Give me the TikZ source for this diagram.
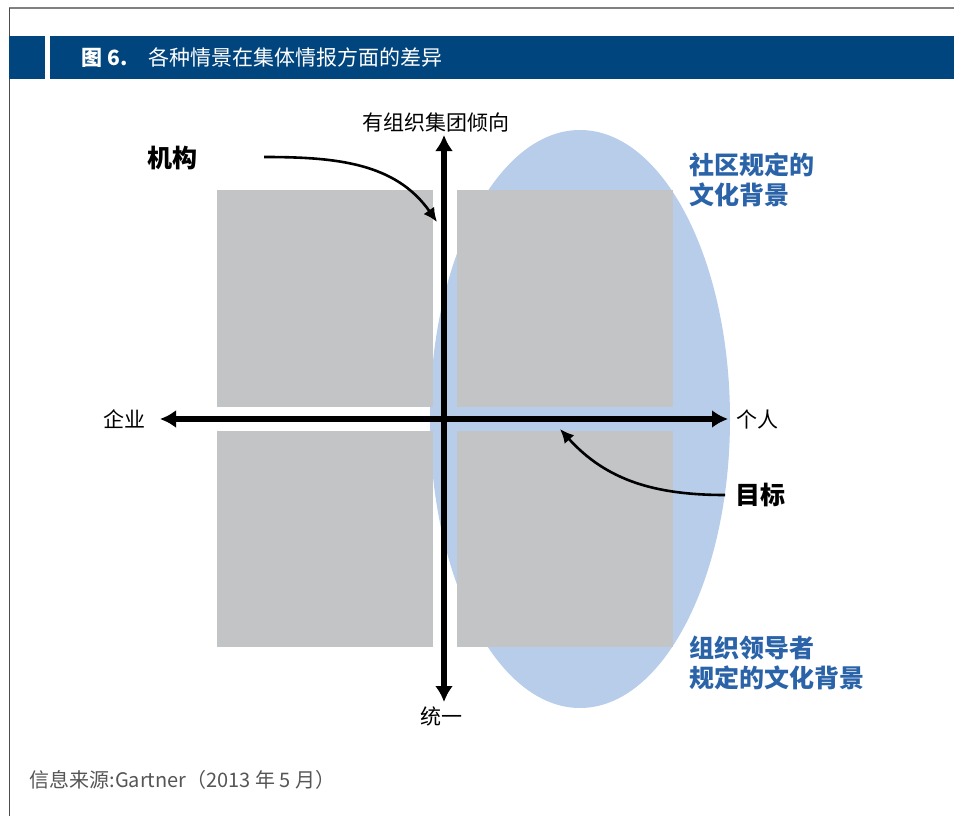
\documentclass[tikz,border=0pt]{standalone}
\usepackage{fontspec}
\setmainfont{Noto Sans CJK SC}
\usepackage{xcolor}
\usetikzlibrary{arrows.meta}
\definecolor{barblue}{HTML}{00457E}
\definecolor{ellblue}{HTML}{B8CDE9}
\definecolor{boxgray}{HTML}{C3C4C6}
\definecolor{lblblue}{HTML}{2A63A8}
\definecolor{srcgray}{HTML}{555555}

\begin{document}
\begin{tikzpicture}[x=1pt,y=-1pt,
  axislabel/.style={font=\fontsize{21}{24}\selectfont},
  keylabel/.style={font=\fontsize{25}{28}\selectfont\bfseries},
  ctxlabel/.style={font=\fontsize{25}{30}\selectfont\bfseries,text=lblblue,align=left,anchor=west,inner sep=0pt},
  quadbox/.style={fill=boxgray},
  axisline/.style={line width=5.5pt,{Latex[length=16pt,width=18pt]}-{Latex[length=16pt,width=18pt]}},
  pointer/.style={line width=2.6pt,-{Latex[length=14pt,width=13pt]}}]
  \useasboundingbox (0,0) rectangle (954,816);

  % frame and title bar
  \draw[gray,line width=1.5pt] (9,8) -- (954,8);
  \draw[black!70,line width=1pt] (9,8) -- (9,816);
  \fill[barblue] (9,36) rectangle (45,79);
  \fill[barblue] (50,36) rectangle (954,79);
  \draw (78,57.5) node[anchor=west,text=white,font=\fontsize{21}{24}\selectfont](fig) {\textbf{图 6.}};
  \draw (145,57.5) node[anchor=west,text=white,font=\fontsize{21}{24}\selectfont](title) {各种情景在集体情报方面的差异};

  % context ellipse and quadrants
  \fill[ellblue] (580,419) ellipse (150 and 289);
  \fill[quadbox] (217,190) rectangle (433,407);
  \fill[quadbox] (457,190) rectangle (673,407);
  \fill[quadbox] (217,431) rectangle (433,647);
  \fill[quadbox] (457,431) rectangle (673,647);

  % axes
  \coordinate (ytop) at (444,135);
  \coordinate (ybot) at (444,702);
  \coordinate (xleft) at (160,419);
  \coordinate (xright) at (728,419);
  \draw[axisline] (ybot) -- (ytop);
  \draw[axisline] (xleft) -- (xright);

  \draw (436,123) node[axislabel](org)   {有组织集团倾向};
  \draw (441,716) node[axislabel](uni)   {统一};
  \draw (124,419) node[axislabel](ent)   {企业};
  \draw (757,419) node[axislabel](ind)   {个人};

  \draw (172,158) node[keylabel](inst)   {机构};
  \draw (760,495) node[keylabel](goal)   {目标};

  \draw (689,180) node[ctxlabel](comm) {社区规定的\\文化背景};
  \draw (689,663) node[ctxlabel](lead) {组织领导者\\规定的文化背景};

  \coordinate (insttip) at (437,222);
  \coordinate (goaltip) at (560,429);
  \draw[pointer] (264,157) to[out=0,in=125] (insttip);
  \draw[pointer] (725,495) to[out=180,in=-48] (goaltip);

  \draw (26,780) node[anchor=west,text=srcgray,font=\fontsize{20}{22}\selectfont](src) {信息来源:Gartner（2013 年 5 月）};
\end{tikzpicture}
\end{document}
